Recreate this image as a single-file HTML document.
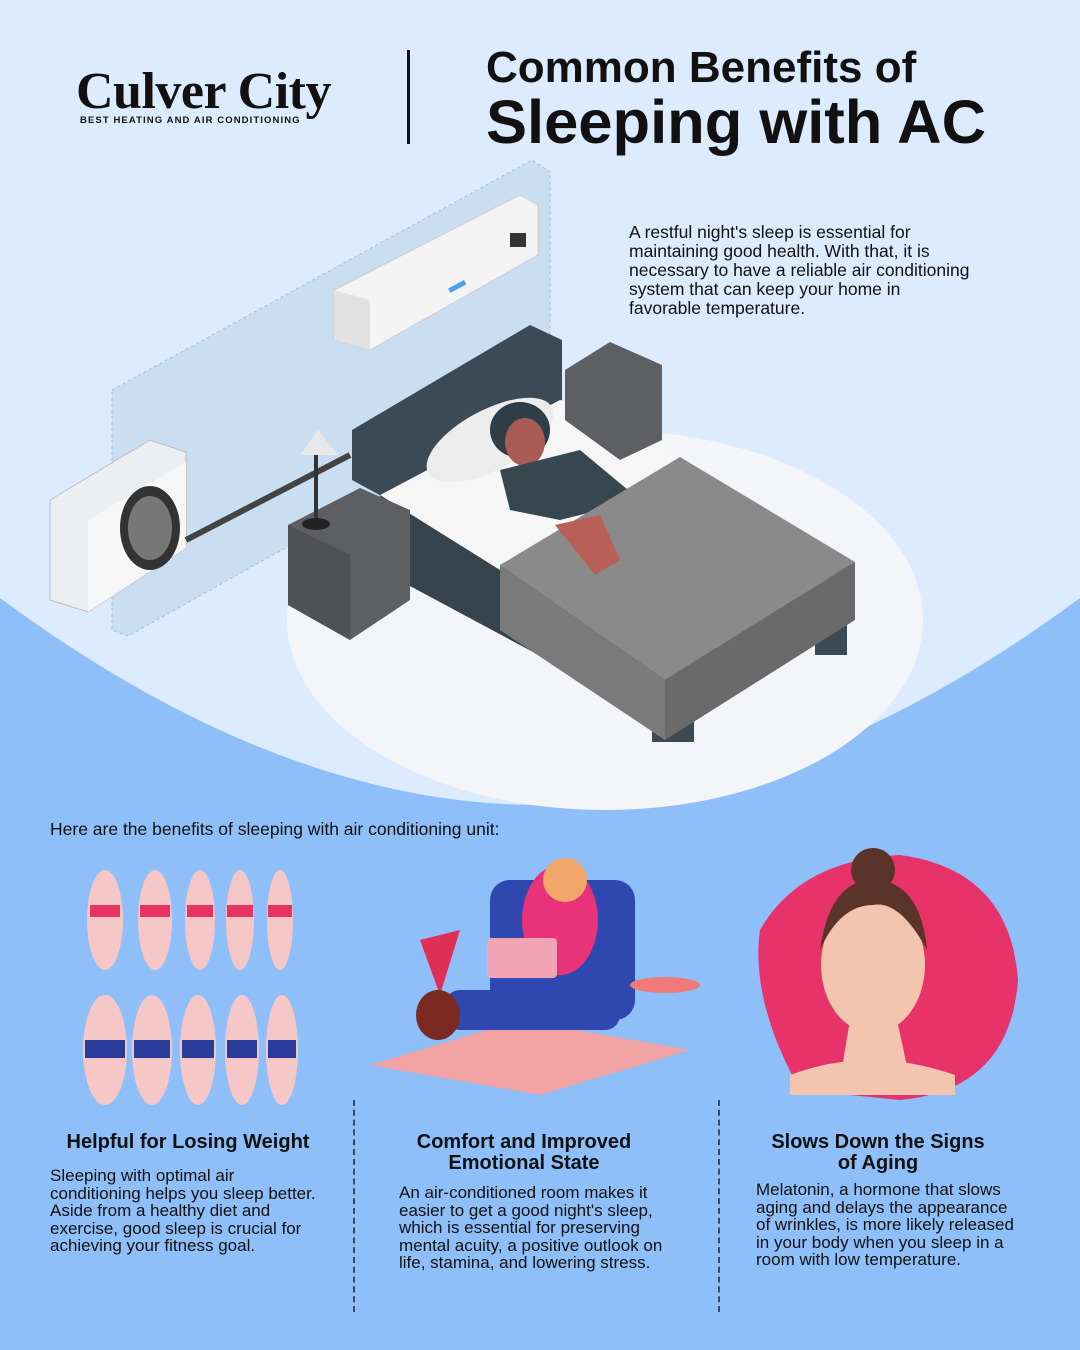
<!DOCTYPE html>
<html><head><meta charset="utf-8"><style>
*{margin:0;padding:0;box-sizing:border-box}
body{width:1080px;height:1350px;position:relative;overflow:hidden;background:#8fbff8;font-family:"Liberation Sans",sans-serif;color:#111}
.a{position:absolute}
p.t{font-size:17px;line-height:17.5px;color:#111}
h3{font-size:20px;font-weight:bold;text-align:center;line-height:21px}
.dash{position:absolute;width:0;border-left:2px dashed #3a4a66;top:1100px;height:212px}
</style></head><body>
<svg class="a" style="left:0;top:0" width="1080" height="1350">
<path d="M0 0H1080V598 Q800 805 540 805 Q280 805 0 598Z" fill="#dcebfd"/>
<ellipse cx="605" cy="620" rx="318" ry="190" fill="#f3f5f8"/>
<polygon points="112,390 532,160 550,172 550,400 128,636 112,630" fill="#c8dcf0" stroke="#9fb3c8" stroke-dasharray="3,3" opacity=".85"/>
<polygon points="334,290 520,195 538,205 538,255 370,350 334,340" fill="#f4f4f4" stroke="#ccc"/>
<polygon points="334,290 370,300 370,350 334,340" fill="#e2e2e2"/>
<rect x="448" y="284" width="18" height="5" fill="#4a9ff0" transform="rotate(-28 457 286)"/>
<rect x="510" y="233" width="16" height="14" fill="#333"/>
<polygon points="50,500 150,440 186,452 186,548 88,612 50,600" fill="#eceff2" stroke="#bbb"/>
<polygon points="88,520 186,462 186,548 88,612" fill="#f6f6f6"/>
<ellipse cx="150" cy="528" rx="30" ry="42" fill="#333"/>
<ellipse cx="150" cy="528" rx="22" ry="32" fill="#777"/>
<line x1="186" y1="540" x2="350" y2="455" stroke="#444" stroke-width="6"/>
<rect x="815" y="615" width="32" height="40" fill="#3c4a55"/>
<polygon points="380,495 660,655 660,720 380,570" fill="#37434d"/>
<polygon points="660,655 850,560 850,620 660,720" fill="#2f3a43"/>
<rect x="652" y="700" width="42" height="42" fill="#3c4a55"/>
<polygon points="352,430 530,325 562,340 562,400 385,498 352,480" fill="#3c4a55"/>
<polygon points="380,495 560,400 700,465 500,570" fill="#f6f6f6"/>
<ellipse cx="490" cy="440" rx="70" ry="30" fill="#ececec" transform="rotate(-28 490 440)"/>
<ellipse cx="520" cy="430" rx="30" ry="28" fill="#2f3e46"/>
<ellipse cx="525" cy="442" rx="20" ry="24" fill="#a85c55"/>
<polygon points="500,470 580,450 640,500 560,520 510,510" fill="#37464f"/>
<polygon points="500,565 680,457 855,562 665,680" fill="#8a8a8a"/>
<polygon points="500,565 665,680 665,740 500,630" fill="#7a7a7a"/>
<polygon points="665,680 855,562 855,620 665,740" fill="#6a6a6a"/>
<polygon points="555,525 600,515 620,560 595,575" fill="#b85f58"/>
<polygon points="288,525 360,488 410,510 410,600 350,640 288,605" fill="#5d5f63"/>
<polygon points="288,525 350,555 350,640 288,605" fill="#4f5155"/>
<polygon points="565,370 610,342 662,365 662,440 620,460 565,420" fill="#5d5f63"/>
<polygon points="300,455 338,455 318,430" fill="#e8e8e8"/>
<rect x="314" y="455" width="4" height="65" fill="#333"/>
<ellipse cx="316" cy="524" rx="14" ry="6" fill="#222"/>
<g fill="#f5c7c7">
<ellipse cx="105" cy="920" rx="18" ry="50"/><ellipse cx="155" cy="920" rx="17" ry="50"/><ellipse cx="200" cy="920" rx="15" ry="50"/><ellipse cx="240" cy="920" rx="14" ry="50"/><ellipse cx="280" cy="920" rx="13" ry="50"/>
<ellipse cx="105" cy="1050" rx="22" ry="55"/><ellipse cx="152" cy="1050" rx="20" ry="55"/><ellipse cx="198" cy="1050" rx="18" ry="55"/><ellipse cx="242" cy="1050" rx="17" ry="55"/><ellipse cx="282" cy="1050" rx="16" ry="55"/>
</g>
<g fill="#e8325f"><rect x="90" y="905" width="30" height="12"/><rect x="140" y="905" width="30" height="12"/><rect x="187" y="905" width="26" height="12"/><rect x="227" y="905" width="26" height="12"/><rect x="268" y="905" width="24" height="12"/></g>
<g fill="#2a3c9a"><rect x="85" y="1040" width="40" height="18"/><rect x="134" y="1040" width="36" height="18"/><rect x="182" y="1040" width="32" height="18"/><rect x="227" y="1040" width="30" height="18"/><rect x="268" y="1040" width="28" height="18"/></g>
<polygon points="370,1065 520,1020 690,1050 540,1095" fill="#f2a3a3"/>
<rect x="490" y="880" width="145" height="140" rx="20" fill="#2e48b0"/>
<rect x="445" y="990" width="175" height="40" rx="15" fill="#2e48b0"/>
<ellipse cx="560" cy="920" rx="38" ry="55" fill="#e8327a"/>
<circle cx="565" cy="880" r="22" fill="#f3a56a"/>
<rect x="487" y="938" width="70" height="40" rx="4" fill="#f2a6b5"/>
<polygon points="420,940 440,995 460,930" fill="#e02f55"/>
<ellipse cx="438" cy="1015" rx="22" ry="25" fill="#7a2a20"/>
<ellipse cx="665" cy="985" rx="35" ry="8" fill="#f07a7a"/>
<path d="M760 930 Q800 860 900 855 Q1010 870 1018 980 Q1010 1090 900 1100 L800 1090 Q750 1000 760 930Z" fill="#e8326a"/>
<ellipse cx="873" cy="965" rx="52" ry="68" fill="#f3c4ae"/>
<path d="M820 950 Q830 880 873 880 Q920 880 927 950 Q900 900 873 905 Q840 905 820 950Z" fill="#5a3428"/>
<circle cx="873" cy="870" r="22" fill="#5a3428"/>
<polygon points="850,1020 897,1020 910,1080 840,1080" fill="#f3c4ae"/>
<path d="M790 1075 Q870 1045 955 1075 L955 1095 L790 1095Z" fill="#f3c4ae"/>
</svg>
<div class="a" style="left:76px;top:64px;font-family:'Liberation Serif',serif;font-weight:bold;font-size:52px;letter-spacing:-0.5px;line-height:56px">Culver City</div>
<div class="a" style="left:80px;top:115px;font-size:9.5px;font-weight:bold;letter-spacing:1.1px">BEST HEATING AND AIR CONDITIONING</div>
<div class="a" style="left:407px;top:50px;width:3px;height:94px;background:#111"></div>
<div class="a" style="left:486px;top:44px;font-size:44px;font-weight:bold;line-height:48px">Common Benefits of</div>
<div class="a" style="left:486px;top:90px;font-size:61.5px;font-weight:bold;line-height:66px">Sleeping with AC</div>
<p class="a t" style="left:629px;top:223px;width:345px;line-height:19px;font-size:17.5px">A restful night's sleep is essential for maintaining good health. With that, it is necessary to have a reliable air conditioning system that can keep your home in favorable temperature.</p>
<div class="a" style="left:50px;top:819px;font-size:17.5px">Here are the benefits of sleeping with air conditioning unit:</div>
<h3 class="a" style="left:40px;top:1132px;width:296px">Helpful for Losing Weight</h3>
<p class="a t" style="left:50px;top:1167px;width:275px">Sleeping with optimal air conditioning helps you sleep better. Aside from a healthy diet and exercise, good sleep is crucial for achieving your fitness goal.</p>
<h3 class="a" style="left:374px;top:1132px;width:300px">Comfort and Improved Emotional State</h3>
<p class="a t" style="left:399px;top:1184px;width:272px">An air-conditioned room makes it easier to get a good night's sleep, which is essential for preserving mental acuity, a positive outlook on life, stamina, and lowering stress.</p>
<h3 class="a" style="left:763px;top:1132px;width:230px">Slows Down the Signs of Aging</h3>
<p class="a t" style="left:756px;top:1181px;width:265px">Melatonin, a hormone that slows aging and delays the appearance of wrinkles, is more likely released in your body when you sleep in a room with low temperature.</p>
<div class="dash" style="left:353px"></div>
<div class="dash" style="left:718px"></div>
</body></html>
